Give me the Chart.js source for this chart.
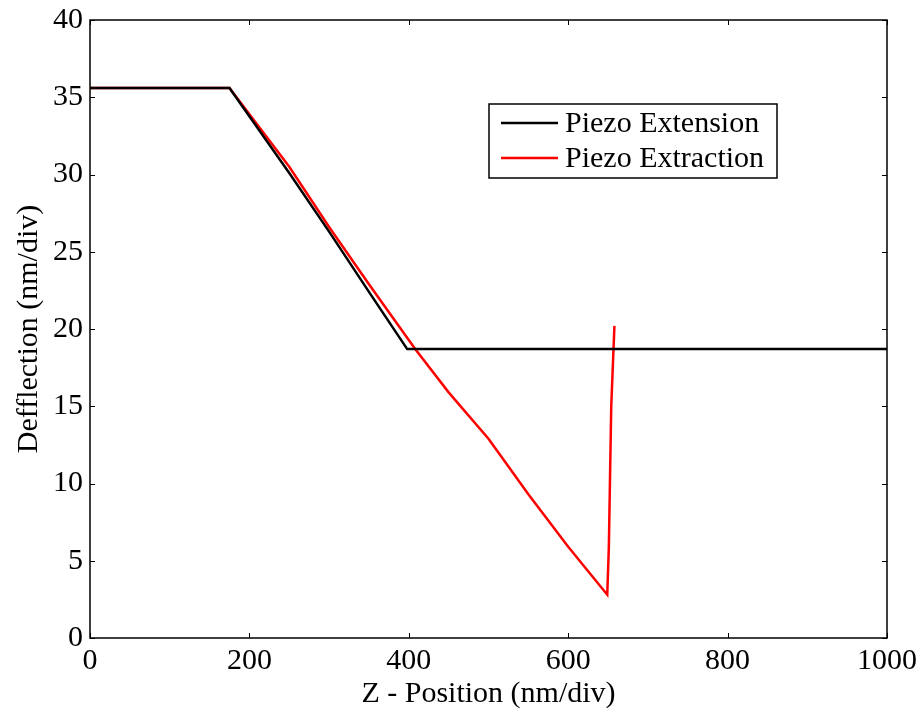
<!DOCTYPE html>
<html>
<head>
<meta charset="utf-8">
<script src="https://cdn.jsdelivr.net/npm/chart.js@4.4.1/dist/chart.umd.min.js"></script>
<style>
  html, body { margin: 0; padding: 0; background: #fff; }
  #wrap { width: 922px; height: 715px; position: relative; }
</style>
</head>
<body>
<div id="wrap"><canvas id="c"></canvas></div>
<script>
// ---- data ----
const extensionX = [0, 175, 250, 300, 350, 398, 1000];
const extensionY = [35.6, 35.6, 30.1, 26.3, 22.4, 18.7, 18.7];
const extractionX = [0, 175, 250, 300, 350, 408, 450, 500, 550, 600, 649, 651, 654, 658];
const extractionY = [35.6, 35.6, 30.5, 26.6, 22.9, 18.7, 15.9, 12.9, 9.3, 5.9, 2.8, 5.9, 15.0, 20.2];
const seriesNames = ['Piezo Extension', 'Piezo Extraction'];
const xTicks = [0, 200, 400, 600, 800, 1000];
const yTicks = [0, 5, 10, 15, 20, 25, 30, 35, 40];
const xTitle = 'Z - Position (nm/div)';
const yTitle = 'Defflection (nm/div)';

const FONT = '"Liberation Serif", "Times New Roman", serif';
const toPts = (xs, ys) => xs.map((x, i) => ({ x: x, y: ys[i] }));

const boxAndTicks = {
  id: 'boxAndTicks',
  afterDatasetsDraw(chart) {
    const ctx = chart.ctx, a = chart.chartArea;
    const xs = chart.scales.x, ys = chart.scales.y;
    ctx.save();
    ctx.strokeStyle = '#000';
    ctx.lineWidth = 1.5;
    ctx.strokeRect(a.left, a.top, a.right - a.left, a.bottom - a.top);
    ctx.lineWidth = 1;
    const L = 5;
    ctx.beginPath();
    xTicks.forEach(v => {
      const p = Math.round(xs.getPixelForValue(v)) + 0.5;
      ctx.moveTo(p, a.bottom); ctx.lineTo(p, a.bottom - L);
      ctx.moveTo(p, a.top); ctx.lineTo(p, a.top + L);
    });
    yTicks.forEach(v => {
      const p = Math.round(ys.getPixelForValue(v)) + 0.5;
      ctx.moveTo(a.left, p); ctx.lineTo(a.left + L, p);
      ctx.moveTo(a.right, p); ctx.lineTo(a.right - L, p);
    });
    ctx.stroke();

    // legend
    const lx = 489, ly = 104, lw = 288, lh = 74;
    ctx.fillStyle = '#fff';
    ctx.fillRect(lx, ly, lw, lh);
    ctx.lineWidth = 1.5;
    ctx.strokeStyle = '#000';
    ctx.strokeRect(lx, ly, lw, lh);
    const colors = ['#000000', '#ff0000'];
    ctx.font = '30px ' + FONT;
    ctx.textBaseline = 'middle';
    ctx.textAlign = 'left';
    seriesNames.forEach((name, i) => {
      const yy = ly + 19 + i * 35;
      ctx.strokeStyle = colors[i];
      ctx.lineWidth = 2.5;
      ctx.beginPath();
      ctx.moveTo(lx + 12, yy); ctx.lineTo(lx + 69, yy);
      ctx.stroke();
      ctx.fillStyle = '#000';
      ctx.fillText(name, lx + 76, yy + 1);
    });
    ctx.restore();
  }
};

const zeroPad = s => { s.paddingTop = 0; s.paddingBottom = 0; s.paddingLeft = 0; s.paddingRight = 0; };

new Chart(document.getElementById('c'), {
  type: 'scatter',
  data: {
    datasets: [
      { label: seriesNames[0], data: toPts(extensionX, extensionY), showLine: true,
        borderColor: '#000000', backgroundColor: '#000000', borderWidth: 2.5, pointRadius: 0, tension: 0 },
      { label: seriesNames[1], data: toPts(extractionX, extractionY), showLine: true,
        borderColor: '#ff0000', backgroundColor: '#ff0000', borderWidth: 2.5, pointRadius: 0, tension: 0 }
    ]
  },
  options: {
    responsive: true,
    maintainAspectRatio: false,
    animation: false,
    layout: { padding: { top: 20, right: 35, left: 0, bottom: 0 } },
    plugins: { legend: { display: false }, tooltip: { enabled: false } },
    scales: {
      x: {
        type: 'linear', min: 0, max: 1000,
        afterBuildTicks: s => { s.ticks = xTicks.map(v => ({ value: v })); },
        afterFit: s => { s.height = 77; zeroPad(s); },
        grid: { display: false, drawTicks: false },
        border: { display: false },
        ticks: { color: '#000', font: { family: FONT, size: 30 }, padding: 5, maxRotation: 0, autoSkip: false,
                 callback: v => String(v) },
        title: { display: true, text: xTitle, color: '#000', font: { family: FONT, size: 30 }, padding: { top: 0, bottom: 3 } }
      },
      y: {
        type: 'linear', min: 0, max: 40,
        afterBuildTicks: s => { s.ticks = yTicks.map(v => ({ value: v })); },
        afterFit: s => { s.width = 90; zeroPad(s); },
        grid: { display: false, drawTicks: false },
        border: { display: false },
        ticks: { color: '#000', font: { family: FONT, size: 30 }, padding: 7, autoSkip: false,
                 callback: v => String(v) },
        title: { display: true, text: yTitle, color: '#000', font: { family: FONT, size: 30 }, padding: { top: 11, bottom: 0 } }
      }
    }
  },
  plugins: [boxAndTicks]
});
</script>
</body>
</html>
